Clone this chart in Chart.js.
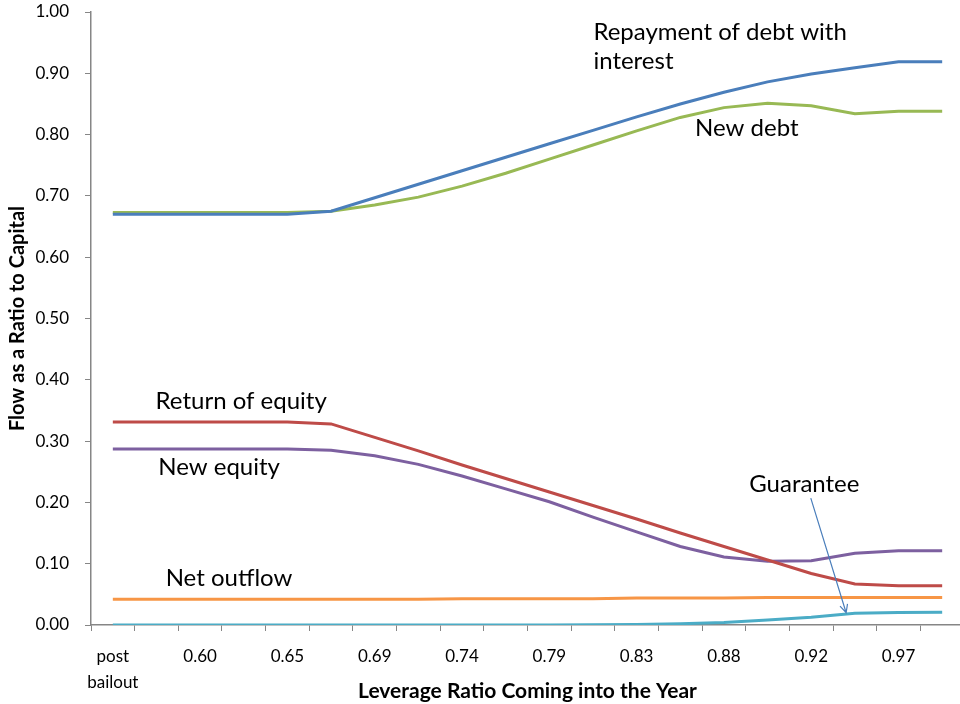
<!DOCTYPE html>
<html>
<head>
<meta charset="utf-8">
<script src="https://cdn.jsdelivr.net/npm/chart.js@4"></script>
<style>
  html, body { margin: 0; padding: 0; background: #fff; overflow: hidden; }
  #wrap { width: 960px; height: 704px; overflow: hidden; }
  #wrap canvas { display: block; }
</style>
</head>
<body>
<div id="wrap"><canvas id="flowChart" width="970" height="704"></canvas></div>
<script>
// Leverage ratio categories (labels shown every other one)
const categories = [['post', 'bailout'], '0.58', '0.60', '0.62', '0.65', '0.67', '0.69', '0.72', '0.74', '0.76',
  '0.79', '0.81', '0.83', '0.86', '0.88', '0.90', '0.92', '0.95', '0.97', '0.99'];

const repayment    = [0.670, 0.670, 0.670, 0.670, 0.670, 0.675, 0.697, 0.719, 0.741, 0.763, 0.785, 0.807, 0.829, 0.850, 0.869, 0.886, 0.899, 0.909, 0.919, 0.919];
const newDebt      = [0.673, 0.673, 0.673, 0.673, 0.673, 0.675, 0.685, 0.698, 0.716, 0.737, 0.760, 0.783, 0.806, 0.828, 0.844, 0.851, 0.847, 0.834, 0.838, 0.838];
const returnEquity = [0.331, 0.331, 0.331, 0.331, 0.331, 0.328, 0.306, 0.284, 0.261, 0.239, 0.217, 0.195, 0.173, 0.150, 0.128, 0.106, 0.084, 0.067, 0.064, 0.064];
const newEquity    = [0.287, 0.287, 0.287, 0.287, 0.287, 0.285, 0.276, 0.262, 0.243, 0.222, 0.201, 0.176, 0.152, 0.128, 0.111, 0.104, 0.105, 0.117, 0.121, 0.121];
const netOutflow   = [0.042, 0.042, 0.042, 0.042, 0.042, 0.042, 0.042, 0.042, 0.043, 0.043, 0.043, 0.043, 0.044, 0.044, 0.044, 0.045, 0.045, 0.045, 0.045, 0.045];
const guarantee    = [0, 0, 0, 0, 0, 0, 0, 0, 0, 0, 0, 0.0005, 0.001, 0.002, 0.004, 0.008, 0.0125, 0.019, 0.0205, 0.021];

// text labels placed on the plot, in data units (category index, value)
const notes = [
  { text: 'Repayment of debt with', x: 11.01, y: 0.955 },
  { text: 'interest', x: 11.01, y: 0.907 },
  { text: 'New debt', x: 13.34, y: 0.798 },
  { text: 'Return of equity', x: 0.98, y: 0.352 },
  { text: 'New equity', x: 1.04, y: 0.245 },
  { text: 'Net outflow', x: 1.21, y: 0.064 },
  { text: 'Guarantee', x: 14.58, y: 0.217 }
];
const guaranteeArrow = { x0: 15.99, y0: 0.207, x1: 16.80, y1: 0.020 };

const FONT = 'Lato, "Open Sans", sans-serif';
const AXIS_GREY = '#868686';

const notesPlugin = {
  id: 'notes',
  afterDatasetsDraw(chart) {
    const { ctx, scales: { x, y } } = chart;
    ctx.save();
    ctx.fillStyle = '#000';
    ctx.font = '24px ' + FONT;
    ctx.textAlign = 'left';
    ctx.textBaseline = 'alphabetic';
    notes.forEach(n => {
      ctx.fillText(n.text, x.getPixelForValue(n.x), y.getPixelForValue(n.y));
    });

    // arrow pointing at the Guarantee line
    const ax0 = x.getPixelForValue(guaranteeArrow.x0), ay0 = y.getPixelForValue(guaranteeArrow.y0);
    const ax1 = x.getPixelForValue(guaranteeArrow.x1), ay1 = y.getPixelForValue(guaranteeArrow.y1);
    const ang = Math.atan2(ay1 - ay0, ax1 - ax0);
    ctx.strokeStyle = '#4A7EBB';
    ctx.lineWidth = 1.2;
    ctx.beginPath();
    ctx.moveTo(ax0, ay0);
    ctx.lineTo(ax1, ay1);
    ctx.moveTo(ax1 - 9 * Math.cos(ang - 0.45), ay1 - 9 * Math.sin(ang - 0.45));
    ctx.lineTo(ax1, ay1);
    ctx.lineTo(ax1 - 9 * Math.cos(ang + 0.45), ay1 - 9 * Math.sin(ang + 0.45));
    ctx.stroke();
    ctx.restore();
  }
};

function series(data, color) {
  return {
    data: data,
    borderColor: color,
    backgroundColor: color,
    borderWidth: 3,
    pointRadius: 0,
    tension: 0,
    fill: false
  };
}

new Chart(document.getElementById('flowChart'), {
  type: 'line',
  data: {
    labels: categories,
    datasets: [
      series(repayment, '#4A7EBB'),
      series(newDebt, '#98B954'),
      series(returnEquity, '#BE4B48'),
      series(newEquity, '#7D60A0'),
      series(netOutflow, '#F79646'),
      series(guarantee, '#4BACC6')
    ]
  },
  options: {
    responsive: false,
    animation: false,
    layout: { padding: { top: 12, right: 6, bottom: 0, left: 0 } },
    plugins: {
      legend: { display: false },
      tooltip: { enabled: false }
    },
    scales: {
      x: {
        offset: true,
        grid: { offset: true, drawOnChartArea: false, drawTicks: true, tickLength: 6, color: AXIS_GREY },
        border: { color: AXIS_GREY, width: 1.5 },
        ticks: {
          autoSkip: false,
          maxRotation: 0,
          padding: 13,
          color: '#000',
          font: { family: FONT, size: 17, lineHeight: 1.5 },
          callback: function(value, index) {
            return index % 2 === 0 ? this.getLabelForValue(value) : '';
          }
        },
        title: {
          display: true,
          text: 'Leverage Ratio Coming into the Year',
          color: '#000',
          font: { family: FONT, size: 21, weight: 'bold' },
          padding: { top: 2, bottom: 0 }
        },
        afterFit: scale => { scale.height = 79; }
      },
      y: {
        min: 0,
        max: 1,
        grid: { drawOnChartArea: false, drawTicks: true, tickLength: 6, color: AXIS_GREY },
        border: { color: AXIS_GREY, width: 1.5 },
        ticks: {
          stepSize: 0.1,
          padding: 16,
          color: '#000',
          font: { family: FONT, size: 17 },
          callback: v => v.toFixed(2)
        },
        title: {
          display: true,
          text: 'Flow as a Ratio to Capital',
          color: '#000',
          font: { family: FONT, size: 20, weight: 'bold' },
          padding: { top: 6, bottom: 0 }
        },
        afterFit: scale => {
          scale.width = 91;
          scale.paddingTop = 0;
          scale.paddingBottom = 0;
        }
      }
    }
  },
  plugins: [notesPlugin]
});
</script>
</body>
</html>
